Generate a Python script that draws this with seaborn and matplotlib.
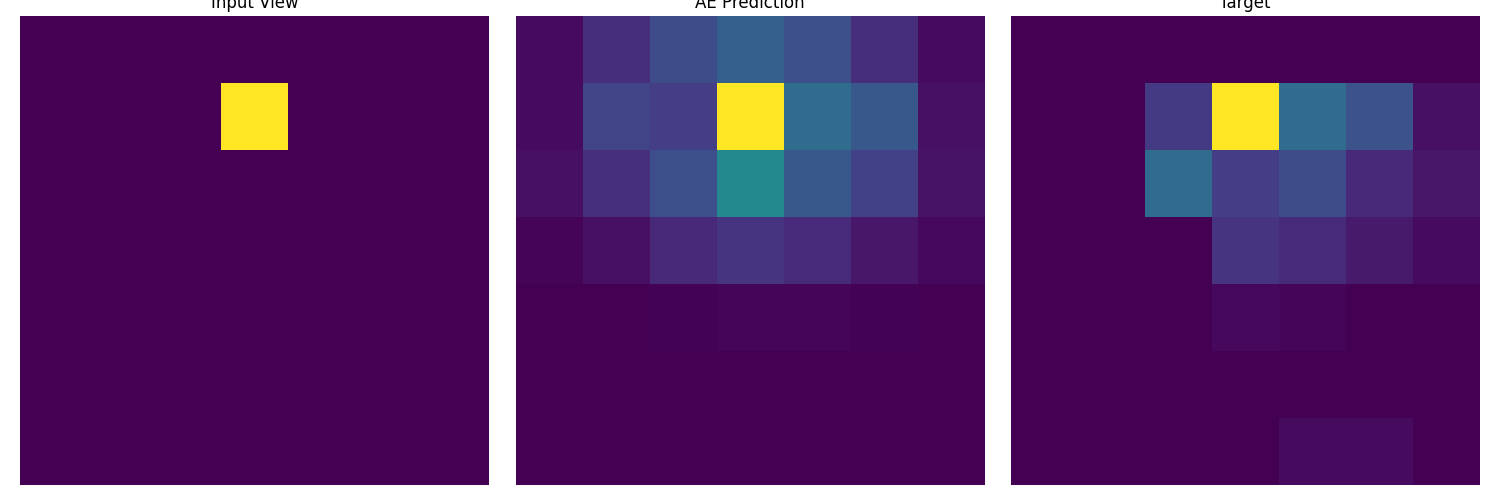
import matplotlib
matplotlib.use("Agg")
import matplotlib.pyplot as plt
import seaborn as sns
import numpy as np

# 7x7 grids (values normalised to 0..1)
input_view = [
    [0, 0, 0, 0, 0, 0, 0],
    [0, 0, 0, 1, 0, 0, 0],
    [0, 0, 0, 0, 0, 0, 0],
    [0, 0, 0, 0, 0, 0, 0],
    [0, 0, 0, 0, 0, 0, 0],
    [0, 0, 0, 0, 0, 0, 0],
    [0, 0, 0, 0, 0, 0, 0],
]

ae_prediction = [
    [0.03, 0.13, 0.23, 0.30, 0.24, 0.13, 0.03],
    [0.03, 0.20, 0.18, 1.00, 0.35, 0.27, 0.04],
    [0.04, 0.14, 0.24, 0.47, 0.27, 0.19, 0.05],
    [0.01, 0.04, 0.11, 0.15, 0.12, 0.06, 0.02],
    [0.00, 0.00, 0.005, 0.015, 0.015, 0.005, 0.00],
    [0.00, 0.00, 0.00, 0.00, 0.00, 0.00, 0.00],
    [0.00, 0.00, 0.00, 0.00, 0.00, 0.00, 0.00],
]

target = [
    [0.00, 0.00, 0.00, 0.00, 0.00, 0.00, 0.00],
    [0.00, 0.00, 0.17, 1.00, 0.35, 0.25, 0.04],
    [0.00, 0.00, 0.35, 0.18, 0.23, 0.11, 0.06],
    [0.00, 0.00, 0.00, 0.15, 0.12, 0.07, 0.03],
    [0.00, 0.00, 0.00, 0.02, 0.015, 0.00, 0.00],
    [0.00, 0.00, 0.00, 0.00, 0.00, 0.00, 0.00],
    [0.00, 0.00, 0.00, 0.00, 0.03, 0.03, 0.00],
]

titles = ["Input View", "AE Prediction", "Target"]
grids = [input_view, ae_prediction, target]

fig, axes = plt.subplots(1, 3, figsize=(15, 5), dpi=100)
fig.subplots_adjust(left=0.0133, right=0.9867, top=0.968, bottom=0.03, wspace=0.053)

for ax, grid, title in zip(axes, grids, titles):
    sns.heatmap(np.array(grid), ax=ax, cmap="viridis", vmin=0, vmax=1,
                cbar=False, square=True, xticklabels=False, yticklabels=False)
    ax.set_title(title)

fig.savefig("out.png", dpi=100)
